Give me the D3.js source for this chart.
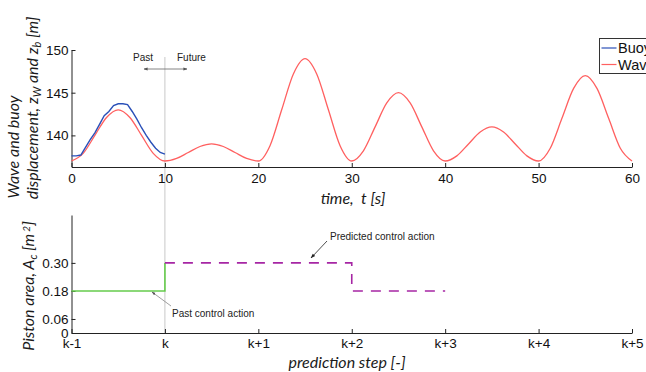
<!DOCTYPE html>
<html>
<head>
<meta charset="utf-8">
<script src="https://cdn.jsdelivr.net/npm/d3@7"></script>
<style>
  body { margin: 0; background: #fff; overflow: hidden; }
  svg { display: block; font-family: "Liberation Sans", Arial, sans-serif; }
  .axis path, .axis line { stroke: #222; }
  .axis text { font-size: 13.5px; fill: #111; }
  .title { font-family: Lato, "Open Sans", sans-serif; font-style: italic; font-size: 16px; fill: #1a1a1a; }
  .note { font-size: 10px; fill: #222; }
</style>
</head>
<body>
<div id="chart"></div>
<script>
// top panel: wave elevation and buoy position
const waveTime = [0, 1.25, 2.5, 3.75, 5, 6.25, 7.5, 8.75, 10, 11.25, 12.5, 13.75, 15, 16.25, 17.5, 18.75, 20,
  21.25, 22.5, 23.75, 25, 26.25, 27.5, 28.75, 30, 31.25, 32.5, 33.75, 35, 36.25, 37.5, 38.75, 40,
  41.25, 42.5, 43.75, 45, 46.25, 47.5, 48.75, 50, 51.25, 52.5, 53.75, 55, 56.25, 57.5, 58.75, 60];
const waveValues = [137, 137.9, 140, 142.1, 143, 142.1, 140, 137.9, 137, 137.3, 138, 138.7, 139, 138.7, 138, 137.3, 137,
  138.8, 143, 147.2, 149, 147.2, 143, 138.8, 137, 138.2, 141, 143.8, 145, 143.8, 141, 138.2, 137,
  137.6, 139, 140.4, 141, 140.4, 139, 137.6, 137, 138.5, 142, 145.5, 147, 145.5, 142, 138.5, 137];
const buoyTime = [0, 0.5, 1, 1.5, 2, 2.5, 3, 3.5, 4, 4.5, 5, 5.5, 6, 6.5, 7, 7.5, 8, 8.5, 9, 9.5, 10];
const buoyValues = [137.6, 137.6, 137.7, 138.6, 139.5, 140.3, 141.3, 142.3, 142.8, 143.5, 143.7, 143.7, 143.6,
  142.8, 141.9, 140.9, 140.0, 139.2, 138.5, 138.0, 137.8];
const timeTicks = [0, 10, 20, 30, 40, 50, 60];
const dispTicks = [140, 145, 150];

// bottom panel: piston area per prediction step
const stepLabels = ['k-1', 'k', 'k+1', 'k+2', 'k+3', 'k+4', 'k+5'];
const pastSteps = [0, 1, 1];
const pastArea = [0.18, 0.18, 0.30];
const predSteps = [1, 3, 3, 4];
const predArea = [0.30, 0.30, 0.18, 0.18];
const areaTicks = [0, 0.06, 0.18, 0.30];
const areaTickLabels = ['0', '0.06', '0.18', '0.30'];

const width = 646, height = 372;
const svg = d3.select('#chart').append('svg').attr('width', width).attr('height', height);

// ---- top panel ----
const x = d3.scaleLinear().domain([0, 60]).range([71.5, 632]);
const y = d3.scaleLinear().domain([136.3, 150]).range([167, 50]);

// past / future divider (runs through both panels)
svg.append('line')
  .attr('x1', x(10)).attr('x2', x(10))
  .attr('y1', 57).attr('y2', 333)
  .attr('stroke', '#c8c8c8').attr('stroke-width', 1);

svg.append('g').attr('class', 'axis')
  .attr('transform', `translate(0,${y.range()[0]})`)
  .call(d3.axisBottom(x).tickValues(timeTicks).tickSizeInner(-4).tickSizeOuter(0).tickPadding(6));
svg.append('g').attr('class', 'axis')
  .attr('transform', `translate(${x.range()[0]},0)`)
  .call(d3.axisLeft(y).tickValues(dispTicks).tickSizeInner(-4).tickSizeOuter(0).tickPadding(3));

const line = d3.line().x(d => x(d[0])).y(d => y(d[1]));
svg.append('path')
  .datum(d3.zip(waveTime, waveValues))
  .attr('fill', 'none').attr('stroke', '#ff6060').attr('stroke-width', 1.3)
  .attr('d', line.curve(d3.curveMonotoneX));
svg.append('path')
  .datum(d3.zip(buoyTime, buoyValues))
  .attr('fill', 'none').attr('stroke', '#2a50b8').attr('stroke-width', 1.4)
  .attr('d', line.curve(d3.curveLinear));

// past / future markers
const defs = svg.append('defs');
const marker = (id, color, size) => defs.append('marker')
  .attr('id', id).attr('viewBox', '0 0 10 10').attr('refX', 9).attr('refY', 5)
  .attr('markerWidth', size).attr('markerHeight', size).attr('orient', 'auto-start-reverse')
  .append('path').attr('d', 'M0,1.5 L10,5 L0,8.5 z').attr('fill', color);
marker('gray-head', '#555', 5);
marker('dark-head', '#222', 6);

svg.append('text').attr('class', 'note').attr('x', 133).attr('y', 61).text('Past');
svg.append('text').attr('class', 'note').attr('x', 177).attr('y', 61).text('Future');
svg.append('line')
  .attr('x1', 144).attr('x2', 187).attr('y1', 69).attr('y2', 69)
  .attr('stroke', '#666').attr('stroke-width', 0.8)
  .attr('marker-start', 'url(#gray-head)').attr('marker-end', 'url(#gray-head)');

// axis titles
svg.append('text').attr('class', 'title')
  .attr('x', 353).attr('y', 204).attr('text-anchor', 'middle')
  .html('time,&#160; <tspan>t</tspan> [s]');

svg.append('text').attr('class', 'title')
  .attr('transform', 'translate(19,147) rotate(-90)').attr('text-anchor', 'middle')
  .text('Wave and buoy');
const t2 = svg.append('text').attr('class', 'title')
  .attr('transform', 'translate(38,108) rotate(-90)').attr('text-anchor', 'middle');
t2.append('tspan').text('displacement,  z');
t2.append('tspan').attr('baseline-shift', '-25%').attr('font-size', '11px').text('W');
t2.append('tspan').text(' and z');
t2.append('tspan').attr('baseline-shift', '-25%').attr('font-size', '11px').text('b');
t2.append('tspan').text(' [m]');

// legend (runs past the right edge like the original)
const legend = svg.append('g').attr('transform', 'translate(599.5,38.5)');
legend.append('rect').attr('width', 80).attr('height', 35)
  .attr('fill', '#fff').attr('stroke', '#333').attr('stroke-width', 1);
[['Buoy', '#2a50b8'], ['Wave', '#ff6060']].forEach(([name, color], i) => {
  const row = legend.append('g').attr('transform', `translate(0,${9.5 + i * 16.5})`);
  row.append('line').attr('x1', 2).attr('x2', 17).attr('stroke', color).attr('stroke-width', 1.2);
  row.append('text').attr('x', 18.5).attr('dy', '0.36em').attr('font-size', '14.5px').attr('fill', '#111').text(name);
});

// ---- bottom panel ----
const xs = d3.scaleLinear().domain([0, 6]).range([71.5, 632]);
const ya = d3.scaleLinear().domain([0, 0.505]).range([333, 215]);

svg.append('g').attr('class', 'axis')
  .attr('transform', `translate(0,${ya.range()[0]})`)
  .call(d3.axisBottom(xs).ticks(6).tickFormat((d, i) => stepLabels[i]).tickSizeInner(-4).tickSizeOuter(0).tickPadding(5));
svg.append('g').attr('class', 'axis')
  .attr('transform', `translate(${xs.range()[0]},0)`)
  .call(d3.axisLeft(ya).tickValues(areaTicks).tickFormat((d, i) => areaTickLabels[i]).tickSizeInner(-4).tickSizeOuter(0).tickPadding(3));

const stepLine = d3.line().x(d => xs(d[0])).y(d => ya(d[1]));
svg.append('path')
  .datum(d3.zip(pastSteps, pastArea))
  .attr('fill', 'none').attr('stroke', '#66cc4c').attr('stroke-width', 1.6)
  .attr('d', stepLine);
svg.append('path')
  .datum(d3.zip(predSteps, predArea))
  .attr('fill', 'none').attr('stroke', '#a626a4').attr('stroke-width', 1.6)
  .attr('stroke-dasharray', '10,8')
  .attr('d', stepLine);

// annotations
svg.append('text').attr('class', 'note').attr('x', 330).attr('y', 240).text('Predicted control action');
svg.append('line')
  .attr('x1', 327).attr('y1', 241).attr('x2', 311).attr('y2', 258)
  .attr('stroke', '#222').attr('stroke-width', 0.8).attr('marker-end', 'url(#dark-head)');
svg.append('text').attr('class', 'note').attr('x', 172).attr('y', 317).text('Past control action');
svg.append('line')
  .attr('x1', 171).attr('y1', 306).attr('x2', 152).attr('y2', 292)
  .attr('stroke', '#888').attr('stroke-width', 0.8).attr('marker-end', 'url(#gray-head)');

svg.append('text').attr('class', 'title')
  .attr('x', 347).attr('y', 368).attr('text-anchor', 'middle')
  .text('prediction step [-]');

const t3 = svg.append('text').attr('class', 'title')
  .attr('transform', 'translate(34,286) rotate(-90)').attr('text-anchor', 'middle');
t3.append('tspan').text('Piston area,  A');
t3.append('tspan').attr('baseline-shift', '-25%').attr('font-size', '11px').text('c');
t3.append('tspan').text(' [m');
t3.append('tspan').attr('baseline-shift', '40%').attr('font-size', '10px').text(' 2');
t3.append('tspan').text(']');
</script>
</body>
</html>
